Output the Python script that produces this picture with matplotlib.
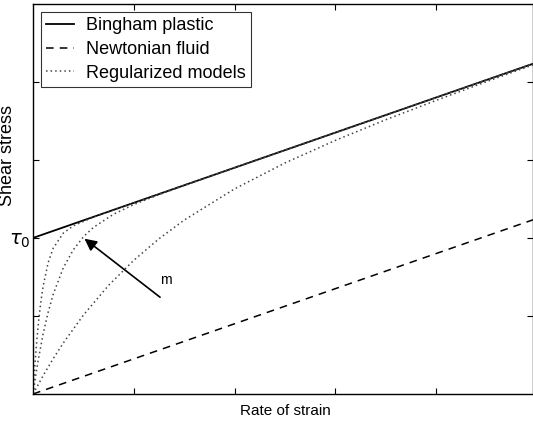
import matplotlib
matplotlib.use("Agg")
import matplotlib.pyplot as plt

plt.rcParams['font.family'] = ['Liberation Sans', 'DejaVu Sans']

# Bingham plastic and Newtonian fluid (straight lines)
bingham_x = [0.0, 4.96]
bingham_y = [2.0, 4.232]
newton_x = [0.0, 4.96]
newton_y = [0.0, 2.232]

# regularized models (low m to high m)
reg1_x = [0.0, 0.1, 0.2, 0.3, 0.5, 0.75, 1.0, 1.25, 1.5, 2.0, 2.5, 3.0, 3.5, 4.0, 4.5, 4.96]
reg1_y = [0.0, 0.235, 0.453, 0.653, 1.012, 1.393, 1.714, 1.990, 2.229, 2.629, 2.961, 3.250, 3.515, 3.763, 4.003, 4.218]

reg2_x = [0.0, 0.025, 0.05, 0.1, 0.15, 0.2, 0.3, 0.4, 0.5, 0.6, 0.8, 1.0, 1.25, 1.5, 2.0, 3.0, 4.0, 4.96]
reg2_y = [0.0, 0.224, 0.426, 0.770, 1.049, 1.277, 1.617, 1.849, 2.014, 2.136, 2.305, 2.428, 2.555, 2.673, 2.900, 3.350, 3.800, 4.232]

reg3_x = [0.0, 0.01, 0.02, 0.04, 0.06, 0.08, 0.1, 0.15, 0.2, 0.3, 0.4, 0.6, 1.0, 2.0, 3.0, 4.0, 4.96]
reg3_y = [0.0, 0.213, 0.404, 0.730, 0.993, 1.206, 1.379, 1.684, 1.868, 2.061, 2.155, 2.267, 2.450, 2.900, 3.350, 3.800, 4.232]

x_ticks = [1, 2, 3, 4]
y_ticks = [1, 2, 3, 4]
y_tick_labels = ['', r'$\tau_0$', '', '']


def main():
    fig = plt.figure(figsize=(5.33, 4.25), dpi=100)
    ax = fig.add_axes([0.062, 0.073, 0.938, 0.918])

    ax.plot(bingham_x, bingham_y, color='black', lw=1.3, linestyle='-', label='Bingham plastic')
    ax.plot(newton_x, newton_y, color='black', lw=1.1, linestyle=(0, (5, 4)), label='Newtonian fluid')
    ax.plot(reg1_x, reg1_y, color='#444444', lw=1.1, linestyle=(0, (1, 2)), label='Regularized models')
    ax.plot(reg2_x, reg2_y, color='#444444', lw=1.1, linestyle=(0, (1, 2)))
    ax.plot(reg3_x, reg3_y, color='#444444', lw=1.1, linestyle=(0, (1, 2)))

    ax.annotate('', xy=(0.51, 1.99), xytext=(1.26, 1.24),
                arrowprops=dict(arrowstyle='-|>', color='black', lw=1.2,
                                mutation_scale=18, shrinkA=0, shrinkB=0))
    ax.text(1.32, 1.46, 'm', fontsize=10, ha='center', va='center')

    ax.set_xlim(0, 4.96)
    ax.set_ylim(0, 5)
    ax.set_xticks(x_ticks)
    ax.set_xticklabels([])
    ax.set_yticks(y_ticks)
    ax.set_yticklabels(y_tick_labels, fontsize=14)
    ax.tick_params(direction='in', length=4, width=0.8, top=True, right=True, pad=2)

    ax.set_xlabel('Rate of strain', fontsize=11)
    ax.xaxis.set_label_coords(0.505, -0.026)
    ax.set_ylabel('Shear stress', fontsize=13)
    ax.yaxis.set_label_coords(-0.035, 0.61)

    for s in ax.spines.values():
        s.set_linewidth(1.0)

    leg = ax.legend(loc='upper left', bbox_to_anchor=(0.016, 0.98), borderaxespad=0,
                    fontsize=13, fancybox=False, frameon=True, edgecolor='black',
                    handlelength=1.5, handletextpad=0.7, labelspacing=0.38,
                    borderpad=0.3)
    leg.get_frame().set_linewidth(0.8)

    fig.savefig('out.png', dpi=100)


if __name__ == "__main__":
    main()
